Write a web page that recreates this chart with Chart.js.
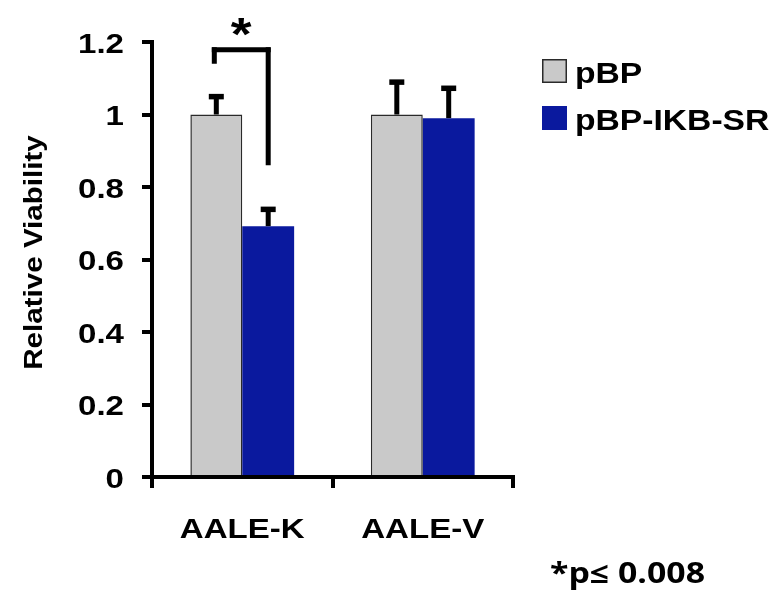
<!DOCTYPE html>
<html lang="en">
<head>
  <meta charset="UTF-8">
  <title>Relative Viability</title>
  <script src="https://cdn.jsdelivr.net/npm/chart.js"></script>
  <style>
    html, body { margin: 0; padding: 0; background: #fff; }
    #wrap { width: 784px; height: 601px; }
  </style>
</head>
<body>
<div id="wrap"><canvas id="chart" width="784" height="601"></canvas></div>
<script>
  // categories and series
  const categories = ["AALE-K", "AALE-V"];
  const seriesNames = ["pBP", "pBP-IKB-SR"];
  const pBP = [1.0, 1.0];
  const pBPErr = [0.05, 0.09];
  const ikb = [0.692, 0.99];
  const ikbErr = [0.047, 0.083];
  const yTicks = ["0", "0.2", "0.4", "0.6", "0.8", "1", "1.2"];
  const yTitle = "Relative Viability";
  // significance bracket: [top, left leg end, right leg end]
  const sigBracket = [1.18, 1.14, 0.86];
  const footnote = "*p\u2264 0.008";

  const FONT = "'Liberation Sans', Arial, sans-serif";
  const STRETCH = 1.16; // text in the original is drawn a bit wide

  // draw text widened along its own direction
  function wideText(ctx, txt, x, y, font, align, rot) {
    ctx.save();
    ctx.font = font;
    ctx.textAlign = align;
    ctx.textBaseline = 'alphabetic';
    ctx.translate(x, y);
    if (rot) ctx.rotate(rot);
    ctx.scale(STRETCH, 1);
    ctx.fillText(txt, 0, 0);
    ctx.restore();
  }

  // labels, error bars, bracket, legend, footnote
  const extras = {
    id: 'extras',
    afterDraw(chart) {
      const ctx = chart.ctx;
      const x = chart.scales.x;
      const y = chart.scales.y;
      const errs = [pBPErr, ikbErr];
      ctx.save();
      ctx.fillStyle = '#000';

      // axis labels
      const tickFont = "bold 28.5px " + FONT;
      yTicks.forEach((t, i) => {
        wideText(ctx, t, 124, y.getPixelForValue(i * 0.2) + 10.5, tickFont, 'right');
      });
      categories.forEach((c, i) => {
        wideText(ctx, c, x.getPixelForValue(i), 538, tickFont, 'center');
      });
      wideText(ctx, yTitle, 42, (chart.chartArea.top + chart.chartArea.bottom) / 2 - 7,
        "bold 25.5px " + FONT, 'center', -Math.PI / 2);

      // error bars (upper only)
      chart.data.datasets.forEach((ds, i) => {
        chart.getDatasetMeta(i).data.forEach((bar, j) => {
          const top = y.getPixelForValue(ds.data[j] + errs[i][j]);
          ctx.fillRect(bar.x - 2.5, top, 5, bar.y - top);
          ctx.fillRect(bar.x - 7.5, top - 2.5, 15, 5.5);
        });
      });

      // bracket over AALE-K
      const a = chart.getDatasetMeta(0).data[0].x - 2;
      const b = chart.getDatasetMeta(1).data[0].x;
      const yt = y.getPixelForValue(sigBracket[0]);
      ctx.fillRect(a - 2.5, yt - 2, 5, y.getPixelForValue(sigBracket[1]) - yt + 2);
      ctx.fillRect(a - 2.5, yt - 2, b - a + 5, 5);
      ctx.fillRect(b - 2.5, yt - 2, 5, y.getPixelForValue(sigBracket[2]) - yt + 2);
      wideText(ctx, '*', (a + b) / 2, yt + 1, "bold 46px " + FONT, 'center');

      // legend
      const lx = chart.chartArea.right + 29;
      chart.data.datasets.forEach((ds, i) => {
        const cy = 71 + i * 47;
        ctx.fillStyle = ds.backgroundColor;
        ctx.fillRect(lx, cy - 12, 25, 24);
        if (ds.borderWidth) {
          ctx.strokeStyle = ds.borderColor;
          ctx.lineWidth = 1.5;
          ctx.strokeRect(lx + 0.75, cy - 11.25, 23.5, 22.5);
        }
        ctx.fillStyle = '#000';
        wideText(ctx, ds.label, lx + 33, cy + 12, "bold 29px " + FONT, 'left');
      });

      // footnote, fitted to its width in the original
      ctx.font = "bold 28px 'Open Sans', sans-serif";
      const fw = ctx.measureText(footnote).width;
      ctx.save();
      ctx.translate(550, 583);
      ctx.scale(155 / fw, 1);
      ctx.textAlign = 'left';
      ctx.fillText(footnote, 0, 0);
      ctx.restore();
      ctx.restore();
    }
  };

  const ctx = document.getElementById('chart').getContext('2d');
  new Chart(ctx, {
    type: 'bar',
    data: {
      labels: categories,
      datasets: [
        { label: seriesNames[0], data: pBP, backgroundColor: '#C9C9C9', borderColor: '#2a2a2a', borderWidth: 1.5, borderSkipped: 'bottom' },
        { label: seriesNames[1], data: ikb, backgroundColor: '#0A199E', borderWidth: 0 }
      ]
    },
    options: {
      responsive: false,
      animation: false,
      layout: { padding: { left: 0, top: 42, right: 271, bottom: 0 } },
      datasets: { bar: { categoryPercentage: 0.575, barPercentage: 1.0 } },
      plugins: { legend: { display: false }, tooltip: { enabled: false } },
      scales: {
        x: {
          afterFit: s => { s.height = 124; },
          grid: { display: true, offset: true, drawOnChartArea: false, drawTicks: true, tickLength: 11, lineWidth: 4, color: '#000' },
          border: { display: true, color: '#000', width: 4 },
          ticks: { display: false }
        },
        y: {
          min: 0, max: 1.2,
          afterFit: s => { s.width = 152; },
          grid: { display: true, drawOnChartArea: false, drawTicks: true, tickLength: 10, lineWidth: 4, color: '#000' },
          border: { display: true, color: '#000', width: 4 },
          ticks: { stepSize: 0.2, display: false }
        }
      }
    },
    plugins: [extras]
  });
</script>
</body>
</html>
